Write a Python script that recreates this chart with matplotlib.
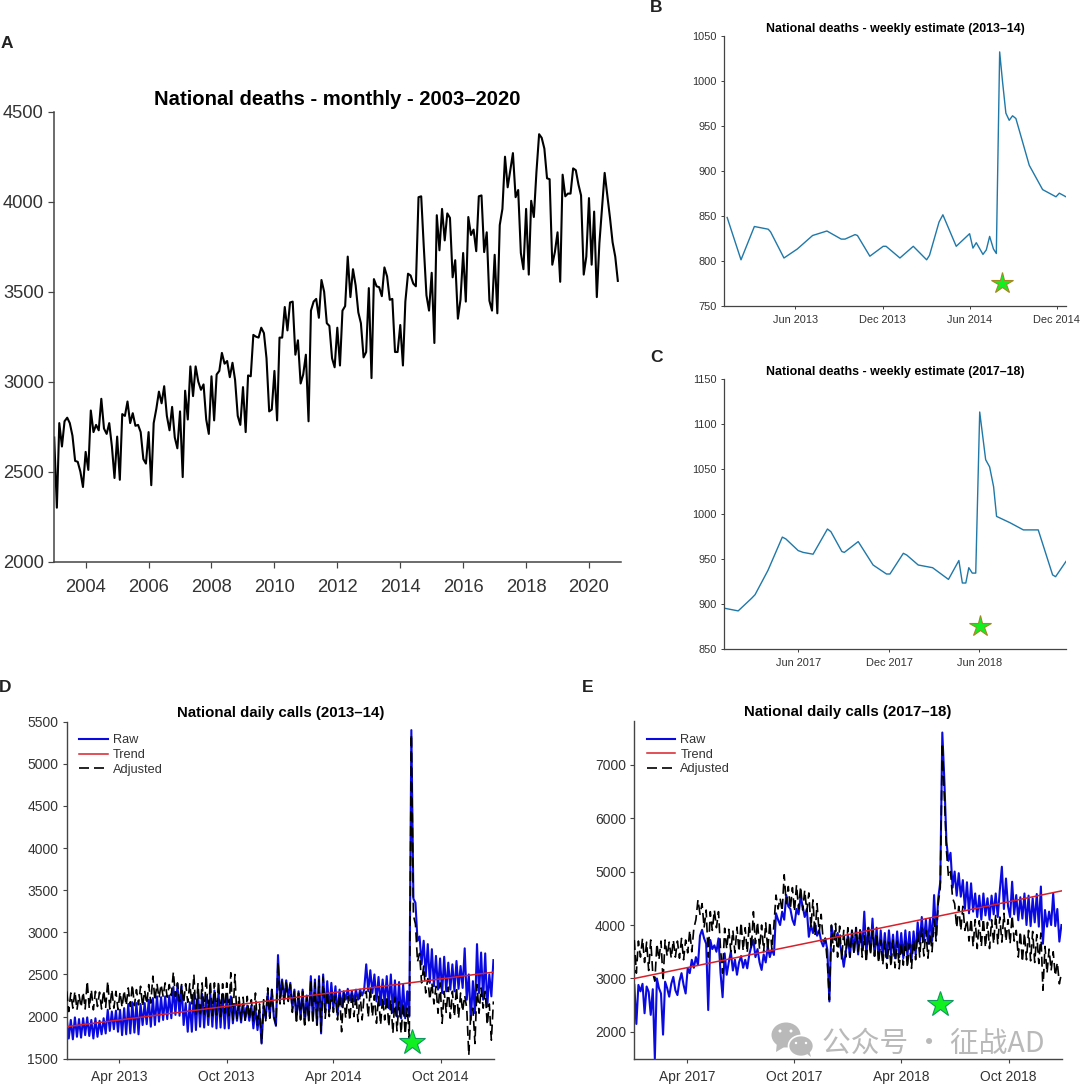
import numpy as np
import pandas as pd
import matplotlib
matplotlib.use('Agg')
import matplotlib.pyplot as plt
from matplotlib.patches import Ellipse, Polygon

plt.rcParams['font.family'] = ['Liberation Sans', 'DejaVu Sans']

# panel A, one value per month from Jan 2003
monthly_deaths = [
    2690, 2300, 2770, 2640, 2780, 2800, 2770, 2700, 2560, 2555, 2500, 2415,
    2610, 2510, 2840, 2720, 2760, 2730, 2905, 2740, 2710, 2770, 2640, 2465,
    2695, 2455, 2820, 2810, 2890, 2770, 2825, 2755, 2760, 2720, 2570, 2545,
    2720, 2425, 2770, 2850, 2945, 2880, 2975, 2810, 2730, 2860, 2690, 2630,
    2835, 2470, 2950, 2790, 3085, 2920, 3085, 3000, 2955, 2985, 2790, 2710,
    3030, 2785, 3040, 3060, 3160, 3100, 3115, 3025, 3105, 3010, 2810, 2760,
    2970, 2720, 3035, 3030, 3260, 3250, 3245, 3300, 3270, 3130, 2835, 2845,
    3060, 2785, 3245, 3245, 3415, 3285, 3440, 3445, 3150, 3230, 2990, 3040,
    3150, 2780, 3395, 3445, 3460, 3355, 3565, 3500, 3325, 3310, 3130, 3080,
    3300, 3090, 3395, 3420, 3695, 3470, 3625, 3535, 3385, 3325, 3135, 3165,
    3520, 3020, 3570, 3530, 3525, 3475, 3635, 3585, 3455, 3460, 3165, 3165,
    3315, 3090, 3445, 3600, 3590, 3545, 3530, 4025, 4030, 3750, 3480, 3395,
    3605, 3215, 3925, 3730, 3960, 3785, 3935, 3910, 3580, 3675, 3350, 3455,
    3715, 3445, 3915, 3815, 3845, 3725, 4030, 4035, 3720, 3830, 3450, 3395,
    3705, 3380, 3870, 3960, 4250, 4080, 4175, 4270, 4025, 4065, 3715, 3625,
    3960, 3595, 4005, 3915, 4165, 4375, 4355, 4295, 4130, 4125, 3650, 3720,
    3830, 3555, 4150, 4030, 4045, 4045, 4185, 4175, 4095, 4035, 3595, 3695,
    4020, 3650, 3945, 3470, 3770, 3965, 4160, 4035, 3910, 3775, 3695, 3560,
]

# panel B, days counted from 1 Jan 2013
weekly_b_days = [8, 37, 65, 94, 99, 127, 155, 187, 217, 247, 255, 276, 281, 307,
                 335, 341, 370, 398, 426, 432, 452, 460, 488, 516, 523, 530, 544,
                 551, 558, 566, 572, 579, 585, 592, 599, 606, 613, 641, 669, 676,
                 697, 704, 718]
weekly_b_vals = [848, 801, 838, 835, 832, 803, 813, 828, 833, 824, 824, 829, 828, 805,
                 816, 816, 803, 816, 801, 806, 843, 851, 816, 830, 814, 820, 807,
                 812, 827, 813, 808, 1032, 999, 964, 956, 961, 958, 906, 879, 877,
                 871, 875, 871]

# panel C, days counted from 1 Jan 2017
weekly_c_days = [2, 30, 57, 64, 90, 119, 126, 151, 161, 181, 210, 217, 239, 244, 272,
                 302, 329, 336, 363, 370, 393, 422, 454, 475, 482, 489, 495, 502, 509,
                 517, 529, 537, 545, 551, 578, 605, 635, 664, 670, 691]
weekly_c_vals = [895, 892, 906, 910, 937, 974, 972, 959, 957, 955, 983, 980, 958, 957, 969,
                 943, 933, 933, 956, 954, 943, 940, 927, 948, 923, 923, 940, 934, 934,
                 1113, 1060, 1052, 1030, 997, 990, 982, 982, 932, 930, 947]

# panels D and E, weekly high and low of the daily series, one value per half week
calls_d_raw = [
    1980, 1740, 1960, 1730, 1990, 1760, 1970, 1750, 1980, 1780,
    1990, 1770, 1960, 1740, 1980, 1760, 1950, 1790, 1980, 1800,
    2080, 1830, 2060, 1850, 2070, 1820, 2080, 1780, 2100, 1790,
    2150, 1800, 2170, 1810, 2160, 1790, 2150, 1900, 2160, 1910,
    2200, 1880, 2220, 1900, 2240, 1940, 2230, 1960, 2240, 1970,
    2250, 1980, 2350, 2020, 2380, 2010, 2360, 1900, 2160, 1820,
    2170, 1820, 2280, 1840, 2280, 1880, 2270, 1870, 2240, 1900,
    2280, 1880, 2310, 1860, 2300, 1870, 2270, 1860, 2250, 1860,
    2240, 1920, 2150, 1950, 2140, 1930, 2150, 1960, 2130, 1950,
    2130, 1860, 2100, 1840, 2050, 1680, 2120, 1980, 2280, 2000,
    2320, 1990, 1890, 2730, 2200, 2440, 2200, 2430, 2220, 2400,
    2100, 2320, 1950, 2300, 1980, 2320, 1920, 2250, 1960, 2480,
    1950, 2440, 1900, 2480, 1800, 2500, 2050, 2420, 2060, 2400,
    2100, 2360, 2020, 2320, 2120, 2300, 2200, 2330, 2190, 2300,
    2180, 2320, 2200, 2320, 2250, 2320, 2620, 2300, 2550, 2280,
    2500, 2180, 2470, 2140, 2440, 2150, 2480, 2100, 2500, 2050,
    2430, 2000, 2410, 1980, 2380, 1980, 2300, 2000, 5400, 3400,
    3350, 2900, 2950, 2620, 2900, 2480, 2860, 2400, 2800, 2360,
    2720, 2320, 2690, 2280, 2710, 2300, 2640, 2320, 2620, 2300,
    2660, 2330, 2600, 2340, 2810, 2200, 2500, 1960, 2420, 2040,
    2860, 2280, 2760, 2200, 2750, 2120, 2500, 2240, 2670,
]
calls_d_adj = [
    2300, 2060, 2280, 2100, 2300, 2080, 2260, 2110, 2290, 2090,
    2420, 2100, 2320, 2080, 2300, 2120, 2290, 2090, 2310, 2110,
    2420, 2090, 2320, 2100, 2300, 2080, 2290, 2110, 2310, 2130,
    2340, 2120, 2380, 2130, 2320, 2140, 2360, 2120, 2310, 2150,
    2380, 2160, 2480, 2190, 2390, 2220, 2380, 2240, 2400, 2230,
    2380, 2250, 2530, 2240, 2400, 2180, 2380, 2160, 2390, 2170,
    2390, 2150, 2500, 2030, 2390, 2000, 2400, 2030, 2490, 2000,
    2420, 2010, 2400, 2020, 2420, 2000, 2390, 2040, 2400, 2010,
    2520, 1960, 2500, 1980, 2240, 1960, 2230, 1940, 2240, 1970,
    2200, 1950, 2280, 1900, 2150, 1680, 2200, 1950, 2340, 1980,
    2320, 2000, 1900, 2650, 2150, 2420, 2150, 2400, 2180, 2380,
    2050, 2300, 1950, 2280, 1960, 2300, 1900, 2240, 1950, 2450,
    1940, 2400, 1900, 2440, 1820, 2470, 1980, 2300, 2000, 2280,
    2050, 2250, 1960, 2270, 1820, 2280, 1980, 2240, 1950, 2280,
    2000, 2260, 1940, 2280, 1960, 2260, 2300, 1990, 2350, 2000,
    2250, 1920, 2240, 1900, 2230, 1960, 2240, 1880, 2200, 1800,
    2230, 1830, 2180, 1800, 2160, 1790, 2100, 1750, 5350, 3200,
    3100, 2650, 2750, 2400, 2600, 2280, 2450, 2200, 2400, 2150,
    2360, 2040, 2400, 1920, 2300, 2050, 2350, 1980, 2300, 2000,
    2350, 1980, 2280, 2060, 2250, 2100, 1540, 2060, 2100, 1680,
    2380, 2040, 2340, 2100, 2300, 1900, 2150, 1720, 2180,
]
calls_e_raw = [
    2880, 2150, 2880, 2760, 2900, 2350, 2850, 2750, 2320, 2800,
    1500, 3000, 2820, 2720, 1950, 2940, 2820, 2660, 2900, 3030,
    2780, 2690, 2950, 3100, 2880, 2720, 3190, 3100, 3350, 3200,
    3400, 3250, 3800, 3910, 3750, 3650, 2410, 3720, 3550, 3620,
    3500, 3750, 3100, 2650, 3470, 3070, 3300, 3500, 3150, 3350,
    3070, 3300, 3420, 3200, 3350, 3190, 3450, 3600, 3720, 3400,
    3550, 3300, 3160, 3450, 3300, 3600, 3400, 3550, 3440, 4220,
    4100, 4000, 4250, 4100, 4560, 4350, 4300, 4100, 4000, 4300,
    4200, 4530, 4350, 4150, 4300, 3780, 4000, 3850, 4030, 3800,
    3900, 3700, 3600, 3750, 3540, 2570, 3970, 3800, 3720, 3850,
    3650, 3500, 3220, 3500, 3810, 3400, 3900, 3500, 3950, 3450,
    3900, 3550, 4250, 3450, 3950, 3500, 4120, 3420, 3950, 3350,
    3900, 3400, 3850, 3380, 3900, 3450, 3820, 3380, 3880, 3400,
    3850, 3380, 3900, 3420, 3870, 3350, 3880, 3450, 4050, 3650,
    4150, 3700, 4100, 3650, 4120, 3700, 4560, 3800, 4500, 4800,
    7600, 6700, 5560, 5200, 5350, 4700, 5000, 4550, 4970, 4530,
    4840, 4300, 4800, 4220, 4780, 4250, 4590, 4150, 4550, 4100,
    4590, 4180, 4500, 4100, 4550, 4200, 4590, 4150, 4650, 5090,
    4300, 4870, 4350, 4150, 4810, 4200, 4560, 4090, 4520, 4120,
    4590, 4000, 4550, 3980, 4500, 4050, 4580, 3970, 4720, 3650,
    4280, 3970, 4250, 4000, 4590, 3980, 4300, 3690, 4000,
]
calls_e_adj = [
    3720, 3100, 3700, 3400, 3750, 3300, 3680, 3150, 3720, 3100,
    2950, 3650, 3350, 3700, 2950, 3720, 3420, 3680, 3380, 3720,
    3400, 3700, 3380, 3750, 3350, 3720, 3480, 3900, 3500, 3940,
    4100, 4470, 4200, 4400, 3950, 4280, 3400, 4250, 3900, 4280,
    3950, 4250, 3550, 3100, 3940, 3550, 3920, 3500, 3900, 3480,
    3960, 3500, 4050, 3520, 3950, 3480, 4050, 3550, 4250, 3650,
    4060, 3550, 4000, 3500, 4040, 3520, 4060, 3540, 4000, 4560,
    4300, 4500, 4260, 4940, 4400, 4720, 4300, 4700, 4250, 4750,
    4300, 4720, 4280, 4650, 4250, 4600, 3950, 4470, 3800, 4400,
    3850, 4200, 3700, 3750, 3300, 2600, 4000, 3500, 4030, 3400,
    3980, 3350, 3900, 3400, 3950, 3400, 3900, 3450, 3950, 3500,
    3930, 3400, 3800, 3300, 3950, 3450, 3900, 3420, 3850, 3300,
    3720, 3250, 3700, 3190, 3680, 3220, 3720, 3200, 3700, 3180,
    3680, 3250, 3700, 3200, 3650, 3190, 3720, 3350, 3850, 3400,
    3950, 3420, 3900, 3380, 3850, 3500, 4100, 3700, 4400, 4700,
    7400, 6400, 5400, 4900, 5000, 4500, 4400, 3950, 4350, 3900,
    4350, 3900, 4100, 3700, 4120, 3600, 4100, 3560, 4080, 3600,
    4120, 3580, 4050, 3560, 4100, 3650, 4200, 3650, 4150, 3680,
    4220, 3700, 4100, 3650, 4180, 3700, 3900, 3400, 3880, 3310,
    3850, 3350, 3900, 3330, 3880, 3300, 3820, 3280, 3850, 2780,
    3600, 3100, 3550, 3150, 3500, 3050, 3300, 2900, 3100,
]
trend_days = [0, 729]
trend_d = [1880, 2528]
trend_e = [3000, 4640]

W, H = 1080, 1084
fig = plt.figure(figsize=(W / 100, H / 100), dpi=100)


def px_axes(left, right, top, bottom):
    # axes from pixel edges of the 1080x1084 picture
    return fig.add_axes([left / W, 1 - bottom / H, (right - left) / W, (bottom - top) / H])


def style_axes(ax, tick_size, tick_len, spine_w):
    for side in ['top', 'right']:
        ax.spines[side].set_visible(False)
    for side in ['left', 'bottom']:
        ax.spines[side].set_linewidth(spine_w)
        ax.spines[side].set_color('#444444')
    ax.tick_params(labelsize=tick_size, length=tick_len, width=spine_w * 0.8,
                   color='#444444', labelcolor='#333333', pad=3)


def on_days(start, days):
    return pd.Timestamp(start) + pd.to_timedelta(np.asarray(days, dtype=float), unit='D')


def star(ax, start, day, value, size, edge):
    ax.plot(on_days(start, [day]), [value], marker='*', ms=size, mfc='#10f020',
            mec=edge, mew=0.8, ls='none', clip_on=False, zorder=6)


# A
ax_a = px_axes(54.2, 620.5, 111.7, 561.7)
months = pd.date_range('2003-01-01', periods=len(monthly_deaths), freq='MS')
ax_a.plot(months, monthly_deaths, color='black', lw=1.5)
ax_a.set_xlim(pd.Timestamp('2003-01-01'), pd.Timestamp('2021-01-01'))
ax_a.set_ylim(2000, 4500)
ax_a.set_yticks(np.arange(2000, 4501, 500))
even_years = list(range(2004, 2021, 2))
ax_a.set_xticks(pd.to_datetime([f'{y}-01-01' for y in even_years]))
ax_a.set_xticklabels([str(y) for y in even_years])
style_axes(ax_a, 13.2, 4.5, 1.1)
ax_a.tick_params(axis='x', pad=8)
ax_a.set_title('National deaths - monthly - 2003–2020', fontsize=14.6, fontweight='bold', pad=5)

# B
ax_b = px_axes(724.3, 1066, 35.7, 305.7)
ax_b.plot(on_days('2013-01-01', weekly_b_days), weekly_b_vals, color='#1f78a8', lw=1)
ax_b.set_xlim(on_days('2013-01-01', [2])[0], on_days('2013-01-01', [718])[0])
ax_b.set_ylim(750, 1050)
ax_b.set_yticks(np.arange(750, 1051, 50))
ax_b.set_xticks(pd.to_datetime(['2013-06-01', '2013-12-01', '2014-06-01', '2014-12-01']))
ax_b.set_xticklabels(['Jun 2013', 'Dec 2013', 'Jun 2014', 'Dec 2014'])
style_axes(ax_b, 7.9, 2.5, 0.9)
ax_b.tick_params(axis='x', pad=4.5)
ax_b.set_title('National deaths - weekly estimate (2013–14)', fontsize=8.95, fontweight='bold', pad=2.5)
star(ax_b, '2013-01-01', 584, 775, 16, '#a08a20')

# C
ax_c = px_axes(724.3, 1066, 378.7, 648.7)
ax_c.plot(on_days('2017-01-01', weekly_c_days), weekly_c_vals, color='#1f78a8', lw=1)
ax_c.set_xlim(on_days('2017-01-01', [2])[0], on_days('2017-01-01', [691])[0])
ax_c.set_ylim(850, 1150)
ax_c.set_yticks(np.arange(850, 1151, 50))
ax_c.set_xticks(pd.to_datetime(['2017-06-01', '2017-12-01', '2018-06-01']))
ax_c.set_xticklabels(['Jun 2017', 'Dec 2017', 'Jun 2018'])
style_axes(ax_c, 7.9, 2.5, 0.9)
ax_c.tick_params(axis='x', pad=4.5)
ax_c.set_title('National deaths - weekly estimate (2017–18)', fontsize=8.95, fontweight='bold', pad=2.5)
star(ax_c, '2017-01-01', 518, 875, 16, '#a08a20')


def calls_panel(ax, start, raw, adj, trend):
    half_week = np.arange(len(raw)) * 3.5
    ax.plot(on_days(start, half_week), raw, color='#0a0ae0', lw=1.5, label='Raw', zorder=2)
    ax.plot(on_days(start, half_week), adj, color='black', lw=1.2, ls=(0, (6, 3)), label='Adjusted', zorder=3)
    ax.plot(on_days(start, trend_days), trend, color='#d8202a', lw=1.1, label='Trend', zorder=4)
    ax.set_xlim(on_days(start, [0])[0], on_days(start, [729])[0])
    handles, labels = ax.get_legend_handles_labels()
    order = [0, 2, 1]
    ax.legend([handles[i] for i in order], [labels[i] for i in order], loc='upper left',
              bbox_to_anchor=(0.0, 1.0), frameon=False, fontsize=9.2, handlelength=2.2,
              labelspacing=0.2, handletextpad=0.4, labelcolor='#333333', borderaxespad=0.6)


# D
ax_d = px_axes(66.7, 494, 721.7, 1058.7)
calls_panel(ax_d, '2013-01-01', calls_d_raw, calls_d_adj, trend_d)
ax_d.set_ylim(1500, 5500)
ax_d.set_yticks(np.arange(1500, 5501, 500))
ax_d.set_xticks(pd.to_datetime(['2013-04-01', '2013-10-01', '2014-04-01', '2014-10-01']))
ax_d.set_xticklabels(['Apr 2013', 'Oct 2013', 'Apr 2014', 'Oct 2014'])
style_axes(ax_d, 10, 3, 1.0)
ax_d.tick_params(axis='x', pad=5)
ax_d.set_title('National daily calls (2013–14)', fontsize=10.8, fontweight='bold', pad=3.5)
star(ax_d, '2013-01-01', 589, 1702, 19, '#109860')

# E
ax_e = px_axes(634.3, 1062, 721.3, 1058.7)
calls_panel(ax_e, '2017-01-01', calls_e_raw, calls_e_adj, trend_e)
ax_e.set_ylim(1500, 7810)
ax_e.set_yticks(np.arange(2000, 7001, 1000))
ax_e.set_xticks(pd.to_datetime(['2017-04-01', '2017-10-01', '2018-04-01', '2018-10-01']))
ax_e.set_xticklabels(['Apr 2017', 'Oct 2017', 'Apr 2018', 'Oct 2018'])
style_axes(ax_e, 10, 3, 1.0)
ax_e.tick_params(axis='x', pad=5)
ax_e.set_title('National daily calls (2017–18)', fontsize=10.8, fontweight='bold', pad=3.5)
star(ax_e, '2017-01-01', 521, 2515, 19, '#109860')

# overlay in pixel coordinates: panel letters and the watermark
overlay = fig.add_axes([0, 0, 1, 1], zorder=10)
overlay.set_xlim(0, W)
overlay.set_ylim(H, 0)
overlay.axis('off')
overlay.patch.set_alpha(0)

for letter, x, y in [('A', 1, 44), ('B', 650, 7), ('C', 650, 357), ('D', -1, 687), ('E', 582, 687)]:
    overlay.text(x, y, letter, fontsize=12.5, fontweight='bold', color='#222222', va='center', ha='left')

grey = '#b9b9b9'
overlay.add_patch(Ellipse((786, 1035), 29, 25, fc=grey, ec='none'))
overlay.add_patch(Polygon([[777, 1042], [776, 1052], [786, 1046]], fc=grey, ec='none'))
overlay.add_patch(Ellipse((801, 1046), 25, 21, fc=grey, ec='white', lw=1.2))
overlay.add_patch(Polygon([[806, 1053], [811, 1057], [809, 1050]], fc=grey, ec='none'))
for ex, ey, er in [(780, 1031, 3), (791, 1031, 3), (796, 1043, 2.4), (806, 1043, 2.4)]:
    overlay.add_patch(Ellipse((ex, ey), er, er, fc='white', ec='none'))
overlay.text(822, 1043.5, '公众号 · 征战AD', fontsize=20.7, color=grey, va='center', ha='left',
             family=['Noto Sans CJK SC', 'DejaVu Sans'])

fig.savefig('out.png', dpi=100)
